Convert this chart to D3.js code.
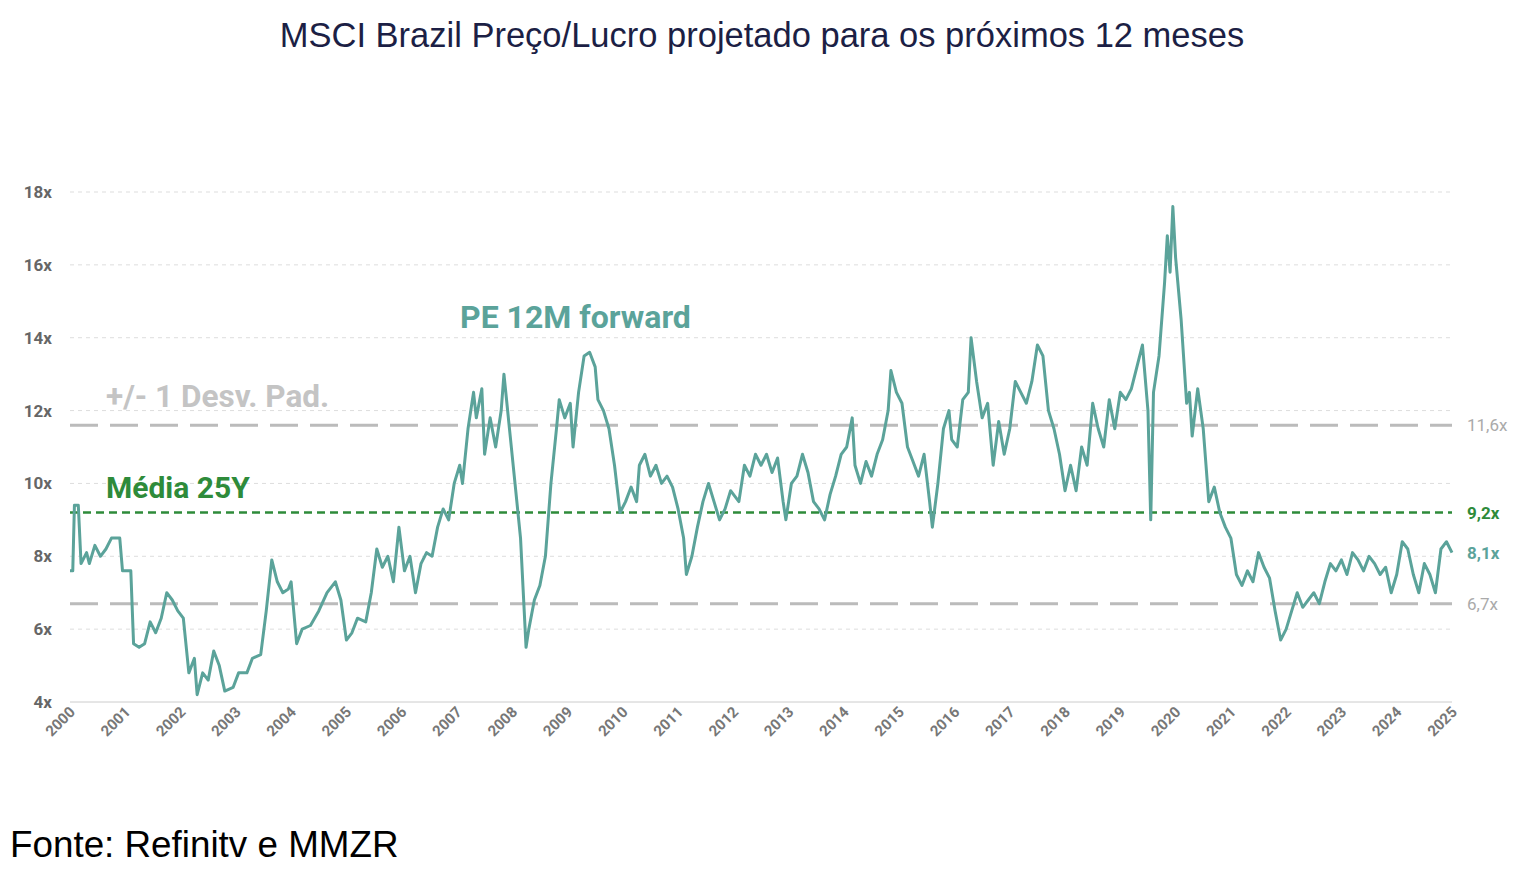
<!DOCTYPE html>
<html><head><meta charset="utf-8">
<script src="https://cdn.jsdelivr.net/npm/d3@7"></script>
<style>body{margin:0;background:#fff;font-family:"Liberation Sans",Arial,sans-serif}</style>
</head><body><svg id="c" width="1538" height="874"></svg>
<script>
var years=[2000,2000.05,2000.08,2000.15,2000.2,2000.3,2000.35,2000.45,2000.55,2000.65,2000.75,2000.9,2000.95,2001.1,2001.15,2001.25,2001.35,2001.45,2001.55,2001.65,2001.75,2001.85,2001.95,2002.05,2002.15,2002.25,2002.3,2002.4,2002.5,2002.6,2002.7,2002.8,2002.95,2003.05,2003.2,2003.3,2003.45,2003.55,2003.65,2003.75,2003.85,2003.95,2004.0,2004.1,2004.2,2004.35,2004.5,2004.65,2004.8,2004.9,2005.0,2005.1,2005.2,2005.35,2005.45,2005.55,2005.65,2005.75,2005.85,2005.95,2006.05,2006.15,2006.25,2006.35,2006.45,2006.55,2006.65,2006.75,2006.85,2006.95,2007.05,2007.1,2007.2,2007.3,2007.35,2007.45,2007.5,2007.6,2007.7,2007.8,2007.85,2007.95,2008.05,2008.15,2008.25,2008.3,2008.4,2008.5,2008.6,2008.7,2008.8,2008.85,2008.95,2009.05,2009.1,2009.2,2009.3,2009.4,2009.5,2009.55,2009.65,2009.75,2009.85,2009.95,2010.05,2010.15,2010.25,2010.3,2010.4,2010.5,2010.6,2010.7,2010.8,2010.9,2011,2011.1,2011.15,2011.25,2011.35,2011.45,2011.55,2011.65,2011.75,2011.85,2011.95,2012.1,2012.2,2012.3,2012.4,2012.5,2012.6,2012.7,2012.8,2012.9,2012.95,2013.05,2013.15,2013.25,2013.35,2013.45,2013.55,2013.65,2013.75,2013.85,2013.95,2014.05,2014.15,2014.2,2014.3,2014.4,2014.5,2014.6,2014.7,2014.8,2014.85,2014.95,2015.05,2015.15,2015.25,2015.35,2015.45,2015.55,2015.6,2015.7,2015.8,2015.9,2015.95,2016.05,2016.15,2016.25,2016.3,2016.4,2016.5,2016.6,2016.7,2016.8,2016.9,2017,2017.1,2017.2,2017.3,2017.4,2017.5,2017.6,2017.7,2017.8,2017.9,2018,2018.1,2018.2,2018.3,2018.4,2018.5,2018.6,2018.7,2018.8,2018.9,2019,2019.1,2019.2,2019.3,2019.4,2019.5,2019.55,2019.6,2019.7,2019.8,2019.85,2019.9,2019.95,2020,2020.1,2020.2,2020.25,2020.3,2020.4,2020.5,2020.55,2020.6,2020.7,2020.8,2020.9,2021,2021.1,2021.2,2021.3,2021.4,2021.5,2021.6,2021.7,2021.8,2021.9,2022,2022.1,2022.2,2022.3,2022.4,2022.5,2022.6,2022.7,2022.8,2022.9,2023,2023.1,2023.2,2023.3,2023.4,2023.5,2023.6,2023.7,2023.8,2023.9,2024,2024.1,2024.2,2024.3,2024.4,2024.5,2024.6,2024.7,2024.8,2024.9,2025];
var pe=[7.6,7.6,9.4,9.4,7.8,8.1,7.8,8.3,8.0,8.2,8.5,8.5,7.6,7.6,5.6,5.5,5.6,6.2,5.9,6.3,7.0,6.8,6.5,6.3,4.8,5.2,4.2,4.8,4.6,5.4,5.0,4.3,4.4,4.8,4.8,5.2,5.3,6.5,7.9,7.3,7.0,7.1,7.3,5.6,6.0,6.1,6.5,7.0,7.3,6.8,5.7,5.9,6.3,6.2,7.0,8.2,7.7,8.0,7.3,8.8,7.6,8.0,7.0,7.8,8.1,8.0,8.8,9.3,9.0,10.0,10.5,10.0,11.5,12.5,11.8,12.6,10.8,11.8,11.0,12.0,13.0,11.5,10.0,8.5,5.5,6.0,6.8,7.2,8.0,10.0,11.5,12.3,11.8,12.2,11.0,12.5,13.5,13.6,13.2,12.3,12.0,11.5,10.5,9.2,9.5,9.9,9.5,10.5,10.8,10.2,10.5,10.0,10.2,9.9,9.3,8.5,7.5,8.0,8.8,9.5,10.0,9.5,9.0,9.3,9.8,9.5,10.5,10.2,10.8,10.5,10.8,10.3,10.7,9.5,9.0,10.0,10.2,10.8,10.3,9.5,9.3,9.0,9.7,10.2,10.8,11.0,11.8,10.5,10.0,10.6,10.2,10.8,11.2,12.0,13.1,12.5,12.2,11.0,10.6,10.2,10.8,9.5,8.8,10.0,11.5,12.0,11.2,11.0,12.3,12.5,14.0,12.8,11.8,12.2,10.5,11.7,10.8,11.5,12.8,12.5,12.2,12.8,13.8,13.5,12.0,11.5,10.8,9.8,10.5,9.8,11.0,10.5,12.2,11.5,11.0,12.3,11.5,12.5,12.3,12.6,13.2,13.8,12.0,9.0,12.5,13.5,15.5,16.8,15.8,17.6,16.2,14.5,12.2,12.5,11.3,12.6,11.5,10.5,9.5,9.9,9.2,8.8,8.5,7.5,7.2,7.6,7.3,8.1,7.7,7.4,6.5,5.7,6.0,6.5,7.0,6.6,6.8,7.0,6.7,7.3,7.8,7.6,7.9,7.5,8.1,7.9,7.6,8.0,7.8,7.5,7.7,7.0,7.5,8.4,8.2,7.5,7.0,7.8,7.5,7.0,8.2,8.4,8.1];
var yTicks=[4,6,8,10,12,14,16,18];
var mean=9.2, upper=11.6, lower=6.7, last=8.1;

var svg=d3.select("#c");
var x=d3.scaleLinear().domain([2000,2025]).range([70,1452]);
var y=d3.scaleLinear().domain([4,18]).range([702,192]);

svg.append("text").attr("x",762).attr("y",47).attr("text-anchor","middle")
  .attr("font-size",34.5).attr("fill","#1c1f45").text("MSCI Brazil Preço/Lucro projetado para os próximos 12 meses");

// grid
svg.selectAll(".g").data(yTicks.slice(1)).enter().append("line")
  .attr("x1",70).attr("x2",1452).attr("y1",d=>y(d)).attr("y2",d=>y(d))
  .attr("stroke","#ddd").attr("stroke-dasharray","4,4");
svg.append("line").attr("x1",70).attr("x2",1452).attr("y1",y(4)).attr("y2",y(4)).attr("stroke","#ccc");
svg.selectAll(".yl").data(yTicks).enter().append("text")
  .attr("x",52).attr("y",d=>y(d)+6).attr("text-anchor","end").attr("font-size",17)
  .attr("font-weight","bold").attr("fill","#666").attr("font-family","Roboto").text(d=>d+"x");
var xt=d3.range(2000,2026);
svg.selectAll(".xl").data(xt).enter().append("text")
  .attr("transform",d=>"translate("+(x(d)+6)+",713) rotate(-45)")
  .attr("text-anchor","end").attr("font-size",15).attr("font-weight","bold")
  .attr("fill","#777").attr("font-family","Roboto").text(d=>d);

// bands
[upper,lower].forEach(function(v){
  svg.append("line").attr("x1",70).attr("x2",1452).attr("y1",y(v)).attr("y2",y(v))
    .attr("stroke","#bbb").attr("stroke-width",3).attr("stroke-dasharray","28,12");
});
svg.append("line").attr("x1",70).attr("x2",1452).attr("y1",y(mean)).attr("y2",y(mean))
  .attr("stroke","#2e8b3a").attr("stroke-width",2.5).attr("stroke-dasharray","8,5");

var line=d3.line().x((d,i)=>x(years[i])).y(d=>y(d));
svg.append("path").datum(pe).attr("d",line).attr("fill","none")
  .attr("stroke","#5ba39a").attr("stroke-width",3).attr("stroke-linejoin","round");

var lbl=[[upper,"11,6x","#aaa"],[mean,"9,2x","#2e8b3a"],[last,"8,1x","#5ba39a"],[lower,"6,7x","#aaa"]];
svg.selectAll(".rl").data(lbl).enter().append("text").attr("x",1467).attr("y",d=>y(d[0])+6)
  .attr("font-size",17).attr("font-weight",d=>d[2]=="#aaa"?"normal":"bold").attr("font-family","Roboto")
  .attr("fill",d=>d[2]).text(d=>d[1]);

svg.append("text").attr("x",460).attr("y",328).attr("font-size",32).attr("font-weight","bold")
  .attr("font-family","Roboto").attr("fill","#5ba39a").text("PE 12M forward");
svg.append("text").attr("x",106).attr("y",407).attr("font-size",31.5).attr("font-weight","bold")
  .attr("font-family","Roboto").attr("fill","#c4c4c4").text("+/- 1 Desv. Pad.");
svg.append("text").attr("x",106).attr("y",498).attr("font-size",30).attr("font-weight","bold")
  .attr("font-family","Roboto").attr("fill","#2e8b3a").text("Média 25Y");

svg.append("text").attr("x",10).attr("y",857).attr("font-size",36.8).attr("fill","#000").text("Fonte: Refinitv e MMZR");
</script></body></html>
